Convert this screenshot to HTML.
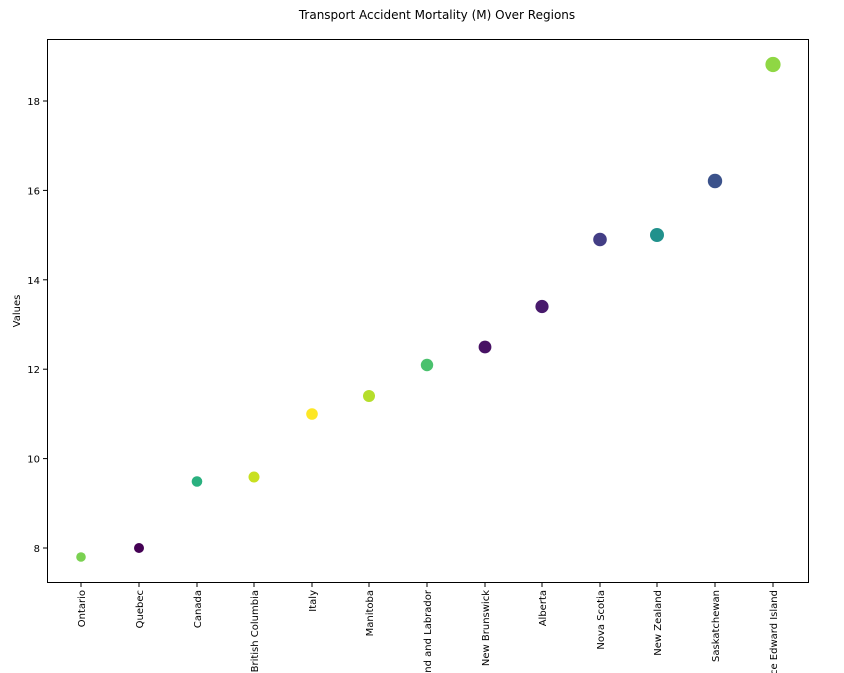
<!DOCTYPE html>
<html><head><style>html,body{margin:0;padding:0;background:#fff;width:844px;height:673px;overflow:hidden}svg{display:block}</style></head>
<body>
<svg width="844" height="673" xmlns="http://www.w3.org/2000/svg" font-family="DejaVu Sans, Liberation Sans, sans-serif" overflow="hidden">
<defs><clipPath id="c"><rect x="0" y="0" width="844" height="673"/></clipPath></defs>
<rect width="844" height="673" fill="#fff"/>
<text x="437" y="19" font-size="12" text-anchor="middle">Transport Accident Mortality (M) Over Regions</text>
<rect x="47.5" y="39.5" width="761" height="543" fill="none" stroke="#000" stroke-width="1"/>
<g font-size="10" text-anchor="end">
<line x1="43" x2="47" y1="548" y2="548" stroke="#000"/><text x="40" y="552">8</text>
<line x1="43" x2="47" y1="458.6" y2="458.6" stroke="#000"/><text x="40" y="462.6">10</text>
<line x1="43" x2="47" y1="369.2" y2="369.2" stroke="#000"/><text x="40" y="373.2">12</text>
<line x1="43" x2="47" y1="279.8" y2="279.8" stroke="#000"/><text x="40" y="283.8">14</text>
<line x1="43" x2="47" y1="190.4" y2="190.4" stroke="#000"/><text x="40" y="194.4">16</text>
<line x1="43" x2="47" y1="101" y2="101" stroke="#000"/><text x="40" y="105">18</text>
</g>
<text transform="translate(20,311) rotate(-90)" font-size="10" text-anchor="middle">Values</text>
<g stroke="#000"><line x1="81" x2="81" y1="583" y2="587"/><line x1="139" x2="139" y1="583" y2="587"/><line x1="197" x2="197" y1="583" y2="587"/><line x1="254" x2="254" y1="583" y2="587"/><line x1="312" x2="312" y1="583" y2="587"/><line x1="369" x2="369" y1="583" y2="587"/><line x1="427" x2="427" y1="583" y2="587"/><line x1="485" x2="485" y1="583" y2="587"/><line x1="542" x2="542" y1="583" y2="587"/><line x1="600" x2="600" y1="583" y2="587"/><line x1="657" x2="657" y1="583" y2="587"/><line x1="715" x2="715" y1="583" y2="587"/><line x1="773" x2="773" y1="583" y2="587"/></g>
<g clip-path="url(#c)"><g font-size="10" text-anchor="end">
<text transform="translate(85,590) rotate(-90)">Ontario</text>
<text transform="translate(143,590) rotate(-90)">Quebec</text>
<text transform="translate(201,590) rotate(-90)">Canada</text>
<text transform="translate(258,590) rotate(-90)">British Columbia</text>
<text transform="translate(316,590) rotate(-90)">Italy</text>
<text transform="translate(373,590) rotate(-90)">Manitoba</text>
<text transform="translate(431,590) rotate(-90)">Newfoundland and Labrador</text>
<text transform="translate(489,590) rotate(-90)">New Brunswick</text>
<text transform="translate(546,590) rotate(-90)">Alberta</text>
<text transform="translate(604,590) rotate(-90)">Nova Scotia</text>
<text transform="translate(661,590) rotate(-90)">New Zealand</text>
<text transform="translate(719,590) rotate(-90)">Saskatchewan</text>
<text transform="translate(777,590) rotate(-90)">Prince Edward Island</text>
</g></g>
<circle cx="81" cy="557" r="4.8" fill="#7ad151"/>
<circle cx="139" cy="548" r="5" fill="#440154"/>
<circle cx="197" cy="481.5" r="5.3" fill="#2ab07f"/>
<circle cx="254" cy="477" r="5.5" fill="#c8e020"/>
<circle cx="312" cy="414" r="5.8" fill="#fde725"/>
<circle cx="369" cy="396" r="6" fill="#b5de2b"/>
<circle cx="427" cy="365" r="6.2" fill="#4ac16d"/>
<circle cx="485" cy="347" r="6.4" fill="#471164"/>
<circle cx="542" cy="306.5" r="6.6" fill="#481a6c"/>
<circle cx="600" cy="239.5" r="6.8" fill="#433e85"/>
<circle cx="657" cy="235" r="7" fill="#21918c"/>
<circle cx="715" cy="181" r="7.2" fill="#3b528b"/>
<circle cx="773" cy="64.5" r="7.6" fill="#8fd744"/>
</svg>
</body></html>
